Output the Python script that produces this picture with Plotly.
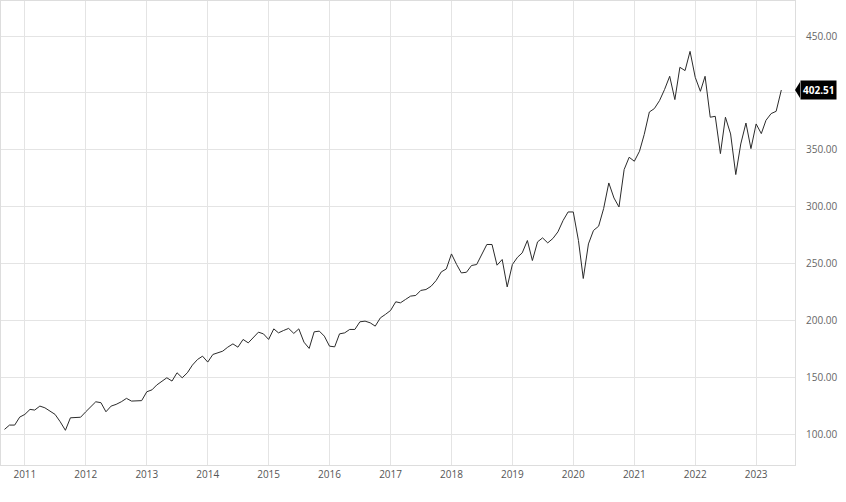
import pandas as pd
import plotly.graph_objects as go

start_month = "2010-09-01"
values = [
    104.1, 107.9, 107.9, 114.9,
    117.3, 121.7, 121.1, 124.6, 123.1, 120.2, 117.3, 110.8, 103.3, 114.3, 114.3, 114.8,
    119.6, 124.6, 128.4, 127.6, 119.6, 124.6, 126.1, 128.4, 131.4, 129.0, 129.3, 129.4,
    137.2, 138.9, 143.1, 146.6, 149.5, 146.6, 153.9, 149.5, 153.9, 160.6, 165.6, 168.5,
    163.3, 170.0, 171.4, 172.9, 176.4, 179.3, 176.4, 183.2, 180.2, 184.6, 189.6, 188.1,
    183.2, 192.5, 189.0, 191.1, 192.9, 188.5, 192.5, 180.8, 175.3, 189.9, 190.5, 186.1,
    177.3, 176.7, 188.1, 189.0, 192.0, 192.0, 198.7, 199.3, 197.8, 194.9, 202.2, 205.2,
    208.7, 216.3, 215.4, 218.4, 221.3, 221.9, 226.3, 227.1, 230.0, 235.0, 242.6, 245.2,
    258.4, 249.1, 241.7, 242.3, 248.2, 249.1, 257.9, 266.7, 266.7, 248.5, 253.5, 229.4,
    249.1, 255.5, 259.3, 270.2, 252.6, 269.0, 272.5, 268.1, 272.0, 277.8, 287.8, 295.3,
    295.3, 270.2, 236.8, 267.2, 279.0, 282.8, 298.3, 320.8, 307.6, 299.7, 332.6, 343.4,
    339.9, 348.7, 363.3, 383.2, 386.2, 393.2, 402.9, 414.6, 394.1, 422.5, 419.6, 436.5,
    413.7, 401.4, 414.6, 378.6, 379.4, 346.6, 378.6, 363.9, 328.2, 355.1, 373.5, 351.0,
    372.7, 364.2, 375.9, 381.8, 383.8, 402.51,
]
dates = pd.date_range(start_month, periods=len(values), freq="MS")
y_ticks = [100, 150, 200, 250, 300, 350, 400, 450]
# the 400.00 label is hidden behind the last-value badge in the reference
y_tick_labels = ["" if v == 400 else f"{v:.2f}" for v in y_ticks]
x_ticks = [f"{y}-01-01" for y in range(2011, 2024)]
x_tick_labels = [str(y) for y in range(2011, 2024)]

last_val = values[-1]
y_min, y_max = 72.8, 480.8

fig = go.Figure()
fig.add_trace(go.Scatter(x=dates, y=values, mode="lines",
                         line=dict(color="#2b2b2b", width=1), hoverinfo="x+y",
                         showlegend=False))

grid = "#e4e4e4"
fig.update_layout(
    width=846, height=502,
    margin=dict(l=1, r=51, t=1, b=37),
    paper_bgcolor="white", plot_bgcolor="white",
    font=dict(family="Open Sans, sans-serif", size=10, color="#666666"),
    xaxis=dict(range=["2010-08-11", "2023-08-22"], tickvals=x_ticks, ticktext=x_tick_labels,
               showgrid=True, gridcolor=grid, gridwidth=1, showline=True, linecolor="#dddddd",
               linewidth=1, mirror=True, ticks="", zeroline=False,
               tickfont=dict(size=10, color="#555555")),
    yaxis=dict(range=[y_min, y_max], side="right", tickvals=y_ticks, ticktext=y_tick_labels,
               showgrid=True, gridcolor=grid, gridwidth=1, showline=True, linecolor="#dddddd",
               linewidth=1, mirror=True, ticks="outside", ticklen=8, tickcolor="rgba(0,0,0,0)",
               zeroline=False, tickfont=dict(size=10, color="#666666")),
)

# last value label
fig.add_annotation(x=1, xref="paper", y=last_val, yref="y", xanchor="left", xshift=5,
                   text=f"<b>{last_val:.2f}</b>", showarrow=False, bgcolor="black",
                   font=dict(color="white", size=10, family="Open Sans, sans-serif"),
                   borderpad=2)
tri_h = (y_max - y_min) / 464 * 8
tri_w = 5 / 795
fig.add_shape(type="path", xref="paper", yref="y",
              path=f"M 1,{last_val} L {1 + tri_w},{last_val + tri_h} L {1 + tri_w},{last_val - tri_h} Z",
              fillcolor="black", line=dict(width=0))

fig.write_html("out.html", config={"displayModeBar": False},
               post_script="document.body.style.margin='0px';document.body.style.padding='0px';")
